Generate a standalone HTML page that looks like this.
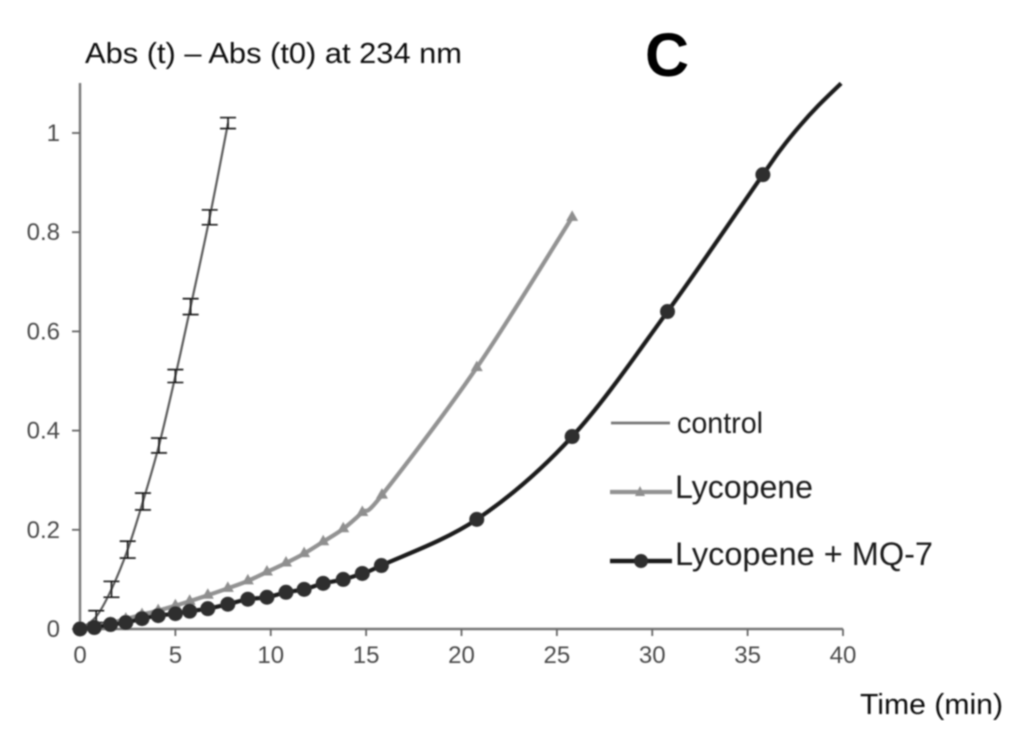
<!DOCTYPE html>
<html lang="en">
<head>
<meta charset="utf-8">
<title>Abs vs Time chart</title>
<style>
html,body{margin:0;padding:0;background:#fff;width:1024px;height:746px;overflow:hidden}
svg{display:block;font-family:"Liberation Sans",sans-serif}
#scene{filter:url(#soft)}
</style>
</head>
<body>
<svg id="chart" width="1024" height="746" viewBox="0 0 1024 746" xmlns="http://www.w3.org/2000/svg">
<defs>
<filter id="soft" x="0" y="0" width="100%" height="100%"><feGaussianBlur stdDeviation="0.8"/></filter>
<clipPath id="plot-clip"><rect x="60" y="82" width="800" height="570"/></clipPath>
</defs>
<g id="scene"></g>
</svg>
<script>
const xTickValues = [0, 5, 10, 15, 20, 25, 30, 35, 40];
const yTickValues = [0, 0.2, 0.4, 0.6, 0.8, 1];
const yTickLabels = ['0', '0.2', '0.4', '0.6', '0.8', '1'];

const controlTimes = [0, 0.85, 1.65, 2.5, 3.3, 4.14, 5.0, 5.8, 6.8, 7.76];
const controlValues = [0, 0.025, 0.08, 0.16, 0.257, 0.37, 0.51, 0.65, 0.83, 1.02];
const controlErrors = [0, 0.012, 0.016, 0.017, 0.017, 0.015, 0.013, 0.016, 0.015, 0.011];

const lycopeneTimes = [0, 0.75, 1.6, 2.4, 3.25, 4.1, 5, 5.75, 6.7, 7.75, 8.8, 9.8, 10.8, 11.75, 12.75, 13.8, 14.8, 15.83, 20.8, 25.8];
const lycopeneValues = [0, 0.004, 0.012, 0.02, 0.029, 0.037, 0.047, 0.056, 0.068, 0.082, 0.097, 0.115, 0.133, 0.152, 0.176, 0.202, 0.235, 0.27, 0.527, 0.83];

const mq7Times = [0, 0.75, 1.6, 2.4, 3.25, 4.1, 5, 5.75, 6.7, 7.75, 8.8, 9.8, 10.8, 11.75, 12.75, 13.8, 14.8, 15.8, 20.8, 25.8, 30.8, 35.8];
const mq7Values = [0, 0.003, 0.009, 0.013, 0.021, 0.027, 0.031, 0.036, 0.041, 0.05, 0.06, 0.064, 0.074, 0.08, 0.092, 0.1, 0.112, 0.128, 0.221, 0.388, 0.64, 0.916];
const mq7TailTimes = [36.8, 37.75, 38.7, 39.9];
const mq7TailValues = [0.97, 1.015, 1.055, 1.1];

const NS = 'http://www.w3.org/2000/svg';
const scene = document.getElementById('scene');
const xScale = t => 80 + t * 19.075;
const yScale = v => 629 - v * 496;

function make(tag, attrs, parent) {
  const el = document.createElementNS(NS, tag);
  for (const k in attrs) el.setAttribute(k, attrs[k]);
  (parent || scene).appendChild(el);
  return el;
}
function smoothPath(pts) {
  let d = 'M' + pts[0][0] + ' ' + pts[0][1];
  for (let i = 0; i < pts.length - 1; i++) {
    const p0 = pts[Math.max(i - 1, 0)], p1 = pts[i], p2 = pts[i + 1], p3 = pts[Math.min(i + 2, pts.length - 1)];
    const c1x = p1[0] + (p2[0] - p0[0]) / 6, c1y = p1[1] + (p2[1] - p0[1]) / 6;
    const c2x = p2[0] - (p3[0] - p1[0]) / 6, c2y = p2[1] - (p3[1] - p1[1]) / 6;
    d += 'C' + c1x + ' ' + c1y + ' ' + c2x + ' ' + c2y + ' ' + p2[0] + ' ' + p2[1];
  }
  return d;
}
function toPoints(ts, vs) {
  return ts.map((t, i) => [xScale(t), yScale(vs[i])]);
}

/* axes */
const yAxis = make('line', {x1: xScale(0), y1: 83, x2: xScale(0), y2: yScale(0), stroke: '#777', 'stroke-width': 2.4});


const xAxis = make('line', {x1: xScale(0), y1: yScale(0), x2: xScale(40), y2: yScale(0), stroke: '#777', 'stroke-width': 2.6});



xTickValues.forEach(t => {
  const tick = make('line', {x1: xScale(t), y1: yScale(0), x2: xScale(t), y2: yScale(0) + 7, stroke: '#666', 'stroke-width': 1.8});
  
  
  const label = make('text', {x: xScale(t), y: 663, 'text-anchor': 'middle', 'font-size': 24, fill: '#4a4a4a'});
  label.textContent = String(t);
  
  
});
yTickValues.forEach((v, i) => {
  const tick = make('line', {x1: xScale(0) - 8, y1: yScale(v), x2: xScale(0), y2: yScale(v), stroke: '#666', 'stroke-width': 1.8});
  
  
  const label = make('text', {x: 60, y: yScale(v) + 8, 'text-anchor': 'end', 'font-size': 24, fill: '#4a4a4a'});
  label.textContent = yTickLabels[i];
  
  
});

/* control series */
const controlGroup = make('g', {});


const controlLine = make('path', {d: smoothPath(toPoints(controlTimes, controlValues)), fill: 'none', stroke: '#5c5c5c', 'stroke-width': 2.2}, controlGroup);


controlTimes.forEach((t, i) => {
  if (i === 0) return;
  const x = xScale(t), hi = yScale(controlValues[i] + controlErrors[i]), lo = yScale(controlValues[i] - controlErrors[i]);
  const err = make('path', {d: 'M' + (x - 8) + ' ' + hi + 'H' + (x + 8) + 'M' + (x - 8) + ' ' + lo + 'H' + (x + 8) + 'M' + x + ' ' + hi + 'V' + lo, fill: 'none', stroke: '#111', 'stroke-width': 1.6}, controlGroup);
  
  
});

/* lycopene series */
const lycGroup = make('g', {});


const lycLine = make('path', {d: smoothPath(toPoints(lycopeneTimes, lycopeneValues)), fill: 'none', stroke: '#939393', 'stroke-width': 4.2}, lycGroup);


toPoints(lycopeneTimes, lycopeneValues).forEach(p => {
  const m = make('path', {d: 'M' + p[0] + ' ' + (p[1] - 7) + 'L' + (p[0] + 6) + ' ' + (p[1] + 3.5) + 'H' + (p[0] - 6) + 'Z', fill: '#8f8f8f'}, lycGroup);
  
  
});

/* lycopene + MQ-7 series */
const mqGroup = make('g', {'clip-path': 'url(#plot-clip)'});


const mqLinePts = toPoints(mq7Times.concat(mq7TailTimes), mq7Values.concat(mq7TailValues));
const mqLine = make('path', {d: smoothPath(mqLinePts), fill: 'none', stroke: '#1f1f1f', 'stroke-width': 4.2}, mqGroup);


toPoints(mq7Times, mq7Values).forEach(p => {
  const m = make('circle', {cx: p[0], cy: p[1], r: 7.5, fill: '#2e2e2e'}, mqGroup);
  
  
});

/* titles */
const yTitle = make('text', {x: 85, y: 63, 'font-size': 29, fill: '#111', textLength: 377, lengthAdjust: 'spacingAndGlyphs'});
yTitle.textContent = 'Abs (t) – Abs (t0) at 234 nm';


const panel = make('text', {x: 645, y: 76, 'font-size': 61, 'font-weight': 700, fill: '#000'});
panel.textContent = 'C';


const xTitle = make('text', {x: 860, y: 714, 'font-size': 29, fill: '#111', textLength: 143, lengthAdjust: 'spacingAndGlyphs'});
xTitle.textContent = 'Time (min)';



/* legend */
const legend = make('g', {});



const e1 = make('g', {}, legend);


make('line', {x1: 611, y1: 423, x2: 670, y2: 423, stroke: '#777', 'stroke-width': 2.8}, e1);
const t1 = make('text', {x: 677, y: 433, 'font-size': 30, fill: '#1a1a1a', textLength: 86, lengthAdjust: 'spacingAndGlyphs'}, e1);
t1.textContent = 'control';

const e2 = make('g', {}, legend);


make('line', {x1: 610, y1: 492, x2: 672, y2: 492, stroke: '#939393', 'stroke-width': 4.2}, e2);
make('path', {d: 'M640 486L645 496H635Z', fill: '#8f8f8f'}, e2);
const t2 = make('text', {x: 675, y: 498, 'font-size': 32, fill: '#1a1a1a', textLength: 138, lengthAdjust: 'spacingAndGlyphs'}, e2);
t2.textContent = 'Lycopene';

const e3 = make('g', {}, legend);


make('line', {x1: 610, y1: 561, x2: 672, y2: 561, stroke: '#1f1f1f', 'stroke-width': 4.6}, e3);
make('circle', {cx: 641, cy: 561, r: 7, fill: '#2e2e2e'}, e3);
const t3 = make('text', {x: 675, y: 565, 'font-size': 32, fill: '#1a1a1a', textLength: 258, lengthAdjust: 'spacingAndGlyphs'}, e3);
t3.textContent = 'Lycopene + MQ-7';
</script>
</body>
</html>
